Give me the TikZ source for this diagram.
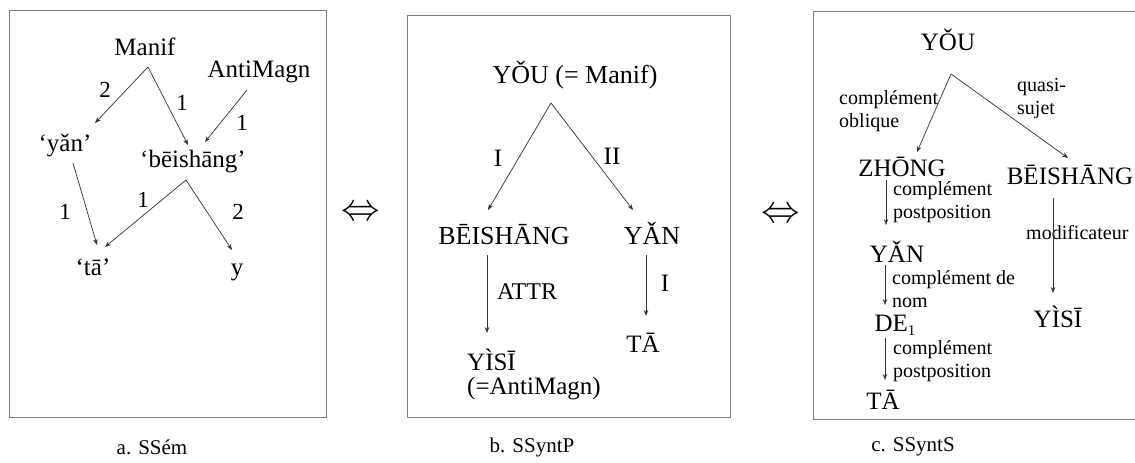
\documentclass[tikz,border=0pt]{standalone}
\usepackage{fontspec}
\setmainfont{Liberation Serif}
\usetikzlibrary{arrows.meta,calc}
\newcommand{\fs}[1]{\fontsize{#1}{#1}\selectfont}
\tikzset{
  panel/.style={draw=black!50, line width=0.9pt},
  word/.style={inner sep=0pt, font=\fs{25}},
  lab/.style={inner sep=0pt, font=\fs{23}},
  small/.style={inner sep=0pt, font=\fontsize{20}{23}\selectfont, align=left, anchor=west},
  arr/.style={draw=black!80, line width=0.7pt, -{Stealth[length=6pt,width=4.5pt]}},
  caption/.style={inner sep=0pt, font=\fs{21}},
  equiv/.style={inner sep=0pt, font=\fs{24}}
}
\begin{document}
\begin{tikzpicture}[x=1pt,y=-1pt]
\useasboundingbox (0,0) rectangle (1135,463);
\begin{scope}
\clip (0,0) rectangle (1135,463);

% ---------- a. semantic structure ----------
\draw[panel] (9,10) rectangle (326,417);
\node[word] (manif) at (145,47) {Manif};
\node[word] (anti)  at (259,72) {AntiMagn};
\node[word] (yan)   at (65,145) {‘yǎn’};
\node[word] (bei)   at (193,162) {‘bēishāng’};
\node[word] (ta)    at (93,267) {‘tā’};
\node[word, anchor=base] (y) at (237,275) {y};

\draw[arr] ($(manif)+(3,20)$) -- ($(yan)+(30,-22)$);
\draw[arr] ($(manif)+(3,20)$) -- ($(bei)+(-5,-17)$);
\draw[arr] ($(anti)+(-12,18)$) -- ($(bei)+(12,-20)$);
\draw[arr] ($(yan)+(8,18)$) -- ($(ta)+(4,-22)$);
\draw[arr] ($(bei)+(-7,18)$) -- ($(ta)+(12,-20)$);
\draw[arr] ($(bei)+(-7,18)$) -- ($(y.base)+(-5,-25)$);

\node[lab] (la1) at (105,90)  {2};
\node[lab] (la2) at (182,103) {1};
\node[lab] (la3) at (242,123) {1};
\node[lab] (la4) at (65,212)  {1};
\node[lab] (la5) at (143,200) {1};
\node[lab] (la6) at (238,212) {2};

\node[caption] (capa) at (152,447) {a. SSém};

\node[equiv] (eqa) at (361,213) {\scalebox{1.55}{$\Leftrightarrow$}};

% ---------- b. deep syntactic structure ----------
\draw[panel] (407,15) rectangle (730,417);
\node[word, font=\fs{26}] (youb) at (575,75) {YǑU (= Manif)};
\node[word, font=\fs{26}] (beib) at (504,235) {BĒISHĀNG};
\node[word, font=\fs{26}] (yanb) at (652,233) {YǍN};
\node[word, anchor=west] (yisib) at (467,360) {YÌSĪ};
\node[word, anchor=west] (antib) at (467,389) {(=AntiMagn)};
\node[word] (tab)  at (643,343) {TĀ};

\draw[arr] ($(youb)+(-24,28)$) -- ($(beib)+(-16,-25)$);
\draw[arr] ($(youb)+(-24,28)$) -- ($(yanb)+(-19,-23)$);
\draw[arr] ($(beib)+(-17,20)$) -- ($(yisib.west)+(20,-27)$);
\draw[arr] ($(yanb)+(-6,22)$) -- ($(tab)+(3,-27)$);

\node[lab, font=\fs{25}] (lbI)   at (498,158) {I};
\node[lab, font=\fs{25}] (lbII)  at (612,156) {II};
\node[lab, font=\fs{24}] (lbAT)  at (527,292) {ATTR};
\node[lab, font=\fs{25}] (lbI2)  at (665,283) {I};

\node[caption] (capb) at (532,447) {b. SSyntP};

\node[equiv] (eqb) at (781,215) {\scalebox{1.55}{$\Leftrightarrow$}};

% ---------- c. surface syntactic structure ----------
\draw[panel] (813,11) rectangle (1145,419);
\node[word] (youc)   at (948,40)  {YǑU};
\node[word] (zhong)  at (902,167) {ZHŌNG};
\node[word] (beic)   at (1070,175) {BĒISHĀNG};
\node[word] (yanc)   at (897,252) {YǍN};
\node[word] (de)     at (895,325) {DE\raisebox{-0.35ex}{\fs{15}1}};
\node[word] (tac)    at (883,400) {TĀ};
\node[word] (yisic)  at (1058,317) {YÌSĪ};

\node[small] (lc1) at (839,111) {complément\\oblique};
\node[small] (lc2) at (1017,99) {quasi-\\sujet};
\node[small] (lc3) at (893,202) {complément\\postposition};
\node[small] (lc4) at (892,289) {complément de\\nom};
\node[small] (lc5) at (893,361) {complément\\postposition};
\node[small] (lc6) at (1026,233) {modificateur};

\draw[arr] ($(youc)+(3,34)$) -- ($(zhong)+(15,-15)$);
\draw[arr] ($(youc)+(3,34)$) -- ($(beic)+(-2,-17)$);
\draw[arr] ($(zhong)+(-16,13)$) -- ($(yanc)+(-11,-27)$);
\draw[arr] ($(yanc)+(-12,13)$) -- ($(de)+(-10,-20)$);
\draw[arr] ($(de)+(-10,13)$) -- ($(tac)+(2,-20)$);
\draw[arr] ($(beic)+(-17,23)$) -- ($(yisic)+(-5,-24)$);

\node[caption] (capc) at (913,447) {c. SSyntS};
\end{scope}
\end{tikzpicture}
\end{document}
